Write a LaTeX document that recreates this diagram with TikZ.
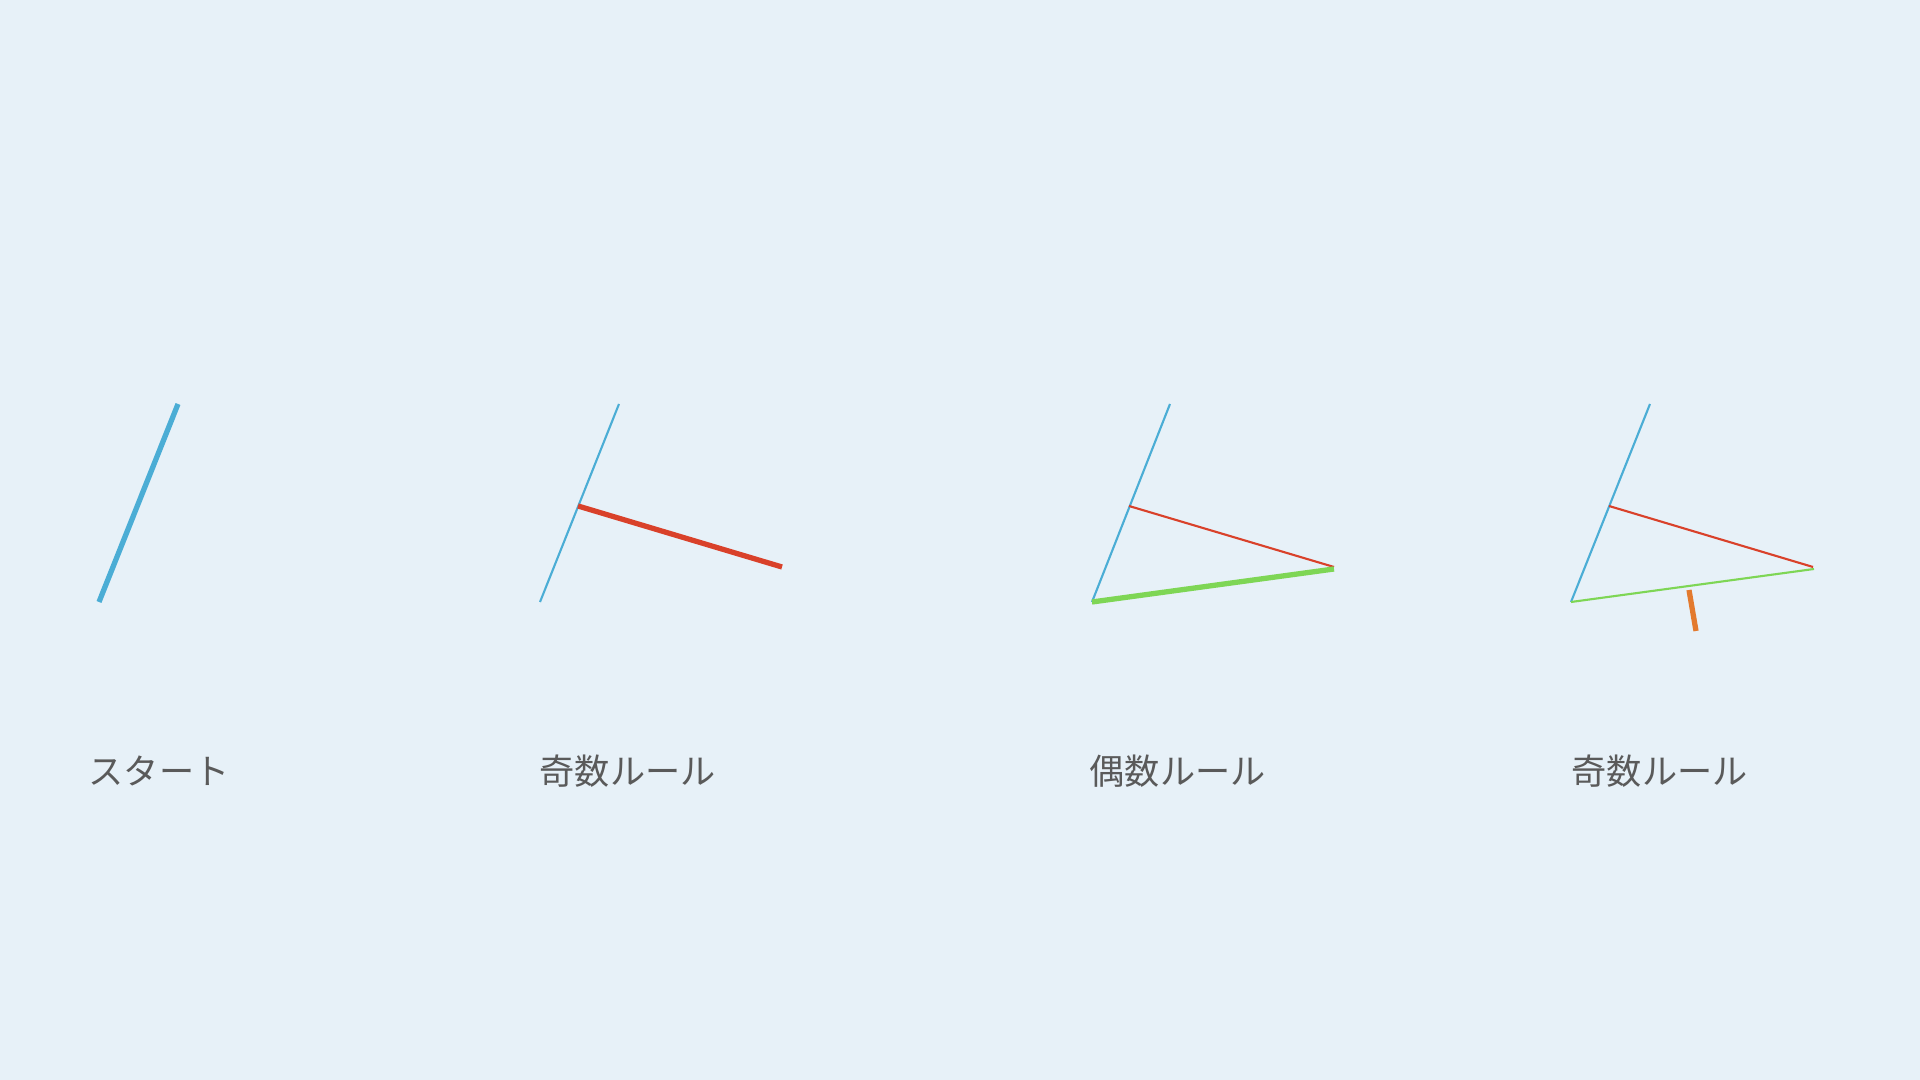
\documentclass[tikz,border=0pt]{standalone}
\usepackage{fontspec}
\setmainfont{Noto Sans CJK JP}
\usepackage{xcolor}
\usetikzlibrary{positioning}

\definecolor{hinter}{HTML}{E7F1F8}
\definecolor{blau}{HTML}{4BADD5}
\definecolor{rot}{HTML}{D9412A}
\definecolor{gruen}{HTML}{7ED655}
\definecolor{orange}{HTML}{E37A2E}
\definecolor{grau}{HTML}{5A5A5A}

\begin{document}
\begin{tikzpicture}[x=0.01cm,y=-0.01cm,
    dick/.style={line width=1.5pt},
    duenn/.style={line width=0.6pt},
    titel/.style={anchor=west,inner sep=0pt,text=grau,font=\fontsize{10}{12}\selectfont}]
  \fill[hinter] (0,0) rectangle (1920,1080);
  % Start
  \coordinate (a1) at (99,602);  \coordinate (b1) at (178,404);
  \draw[blau,dick] (a1) -- (b1);
  \node[titel] (t1) at (88,771) {スタート};
  % erste ungerade Regel
  \coordinate (a2) at (540,602); \coordinate (b2) at (619,404);
  \coordinate (m2) at (578,506); \coordinate (r2) at (782,567);
  \draw[blau,duenn] (a2) -- (b2);
  \draw[rot,dick] (m2) -- (r2);
  \node[titel] (t2) at (539,771) {奇数ルール};
  % gerade Regel
  \coordinate (a3) at (1092,602); \coordinate (b3) at (1170,404);
  \coordinate (m3) at (1129,506); \coordinate (r3) at (1334,567);
  \coordinate (g3) at (1334,569);
  \draw[blau,duenn] (a3) -- (b3);
  \draw[rot,duenn] (m3) -- (r3);
  \draw[gruen,dick] (a3) -- (g3);
  \node[titel] (t3) at (1089,771) {偶数ルール};
  % zweite ungerade Regel
  \coordinate (a4) at (1571,602); \coordinate (b4) at (1650,404);
  \coordinate (m4) at (1609,506); \coordinate (r4) at (1813,567);
  \coordinate (g4) at (1814,569);
  \coordinate (o4) at (1689,590); \coordinate (p4) at (1696,631);
  \draw[blau,duenn] (a4) -- (b4);
  \draw[rot,duenn] (m4) -- (r4);
  \draw[gruen,duenn] (a4) -- (g4);
  \draw[orange,dick] (o4) -- (p4);
  \node[titel] (t4) at (1571,771) {奇数ルール};
\end{tikzpicture}
\end{document}
